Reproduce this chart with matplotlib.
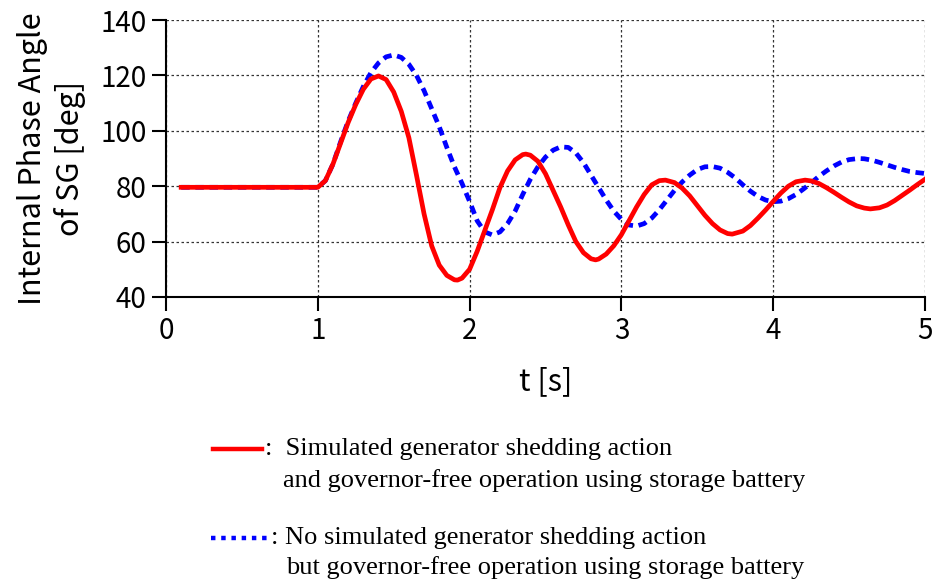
import matplotlib
matplotlib.use("Agg")
import matplotlib.pyplot as plt
from matplotlib.transforms import Bbox

# time axis [s] and internal phase angle [deg]
t_red = [0.1, 1.0, 1.05, 1.1, 1.15, 1.2, 1.25, 1.3, 1.35, 1.4, 1.45, 1.5, 1.55, 1.6,
         1.65, 1.7, 1.75, 1.8, 1.85, 1.9, 1.92, 1.95, 2.0, 2.05, 2.1, 2.15, 2.2,
         2.25, 2.3, 2.35, 2.37, 2.4, 2.45, 2.5, 2.55, 2.6, 2.65, 2.7, 2.75, 2.8,
         2.83, 2.85, 2.9, 2.95, 3.0, 3.05, 3.1, 3.15, 3.2, 3.25, 3.29, 3.35, 3.4,
         3.45, 3.5, 3.55, 3.6, 3.65, 3.7, 3.73, 3.8, 3.85, 3.9, 3.95, 4.0, 4.05,
         4.1, 4.15, 4.21, 4.25, 4.3, 4.35, 4.4, 4.45, 4.5, 4.55, 4.6, 4.64, 4.7,
         4.75, 4.8, 4.85, 4.9, 4.95, 5.0]
ang_red = [79.6, 79.6, 82, 88, 95.5, 103, 109.5, 115, 118.7, 119.8, 118.5, 114, 107, 97.5,
           84, 70, 58.5, 51.5, 47.8, 46.2, 46.1, 46.8, 50, 56.5, 64, 71.5, 79.5,
           85.5, 89.5, 91.4, 91.6, 91.2, 89, 84.5, 78.5, 72.5, 66, 60, 56, 53.8,
           53.4, 53.7, 55.5, 58.5, 62.5, 67.5, 72.5, 77, 80.5, 82, 82.2, 81.3, 79.3,
           76.5, 73, 69.5, 66.5, 64.2, 62.9, 62.7, 63.8, 65.8, 68.5, 71.4, 74.5, 77.5,
           80, 81.6, 82.2, 81.9, 81, 79.5, 77.8, 76, 74.3, 72.9, 72.1, 71.8, 72.2,
           73.2, 74.8, 76.7, 78.6, 80.6, 82.5]

t_blue = [0.1, 1.0, 1.05, 1.1, 1.15, 1.2, 1.25, 1.3, 1.35, 1.4, 1.45, 1.5, 1.55, 1.6,
          1.65, 1.7, 1.75, 1.8, 1.85, 1.9, 1.95, 2.0, 2.05, 2.1, 2.15, 2.2, 2.25,
          2.3, 2.35, 2.4, 2.45, 2.5, 2.55, 2.6, 2.65, 2.7, 2.75, 2.8, 2.85, 2.9,
          2.95, 3.0, 3.05, 3.1, 3.15, 3.2, 3.25, 3.3, 3.35, 3.4, 3.45, 3.5, 3.55,
          3.6, 3.65, 3.7, 3.75, 3.8, 3.85, 3.9, 3.95, 4.0, 4.05, 4.1, 4.15, 4.2,
          4.25, 4.3, 4.35, 4.4, 4.45, 4.5, 4.56, 4.6, 4.65, 4.7, 4.75, 4.8, 4.85,
          4.9, 4.95, 5.0]
ang_blue = [79.6, 79.6, 82, 88, 96, 103.5, 110, 116, 121, 124.5, 126.7, 127.4, 126.5, 124,
            120, 114.5, 108, 101.5, 94, 87, 81, 74.5, 67.5, 63.5, 62.4, 63.5, 66.5,
            71, 77, 82.5, 87, 90.5, 93, 94.2, 94, 92, 88.5, 84, 79.5, 75,
            71, 68, 66, 65.6, 66.5, 68.5, 71.5, 75, 78.5, 81.5, 84, 86, 87,
            87.1, 86.5, 85, 83, 80.5, 78.2, 76.3, 75, 74.4, 74.6, 75.5, 77, 79,
            81.2, 83.5, 85.5, 87.3, 88.7, 89.6, 90, 89.9, 89.4, 88.6, 87.7, 86.8, 86,
            85.3, 84.9, 84.6]

x_ticks = [0, 1, 2, 3, 4, 5]
y_ticks = [40, 60, 80, 100, 120, 140]

gothic = ['Noto Sans CJK JP', 'DejaVu Sans']
serif = ['Liberation Serif', 'DejaVu Serif']

fig = plt.figure(figsize=(9.33, 5.85), dpi=100)
ax = fig.add_axes([166/933, 1-297/585, (925-166)/933, (297-20)/585])

ax.plot(t_blue, ang_blue, color='#0000ff', lw=3.4, dashes=(1.8, 1.2),
        dash_joinstyle='round', zorder=3)
ax.plot(t_red, ang_red, color='#ff0000', lw=3.4, solid_joinstyle='round', zorder=4)

ax.set_xlim(0, 5)
ax.set_ylim(40, 140)
ax.set_xticks(x_ticks)
ax.set_yticks(y_ticks)
ax.grid(True, ls=(0, (2, 2)), color='#333333', lw=0.9)
for s in ['top', 'right']:
    ax.spines[s].set_visible(False)
for s in ['left', 'bottom']:
    ax.spines[s].set_linewidth(1.5)
ax.tick_params(direction='out', length=10, width=1.5, labelsize=20, pad=4)
for lab in ax.get_xticklabels() + ax.get_yticklabels():
    lab.set_family(gothic)

ax.set_xlabel('t [s]', fontsize=22, family=gothic, labelpad=14)
ax.set_ylabel('Internal Phase Angle\nof SG [deg]', fontsize=22, family=gothic,
              linespacing=1.25, labelpad=10)

# legend drawn below the axes
def px(x, y):
    return x/933, 1 - y/585

fig.add_artist(plt.Line2D([213/933, 262/933], [1-449/585]*2, color='#ff0000', lw=3.2))
fig.add_artist(plt.Line2D([211/933, 270/933], [1-538/585]*2, color='#0000ff', lw=3.2,
                          dashes=(1.0, 1.3)))
clip = Bbox.from_extents(0, 0, 805, 585)
lines = [(265, 449, ':  Simulated generator shedding action'),
         (283, 481, 'and governor-free operation using storage battery'),
         (271, 538, ': No simulated generator shedding action'),
         (286, 568, 'but governor-free operation using storage battery')]
for x, y, s in lines:
    tx = fig.text(*px(x, y), s, fontsize=19, family=serif, va='center', ha='left')
    tx.set_clip_box(clip)
    tx.set_clip_on(True)

fig.savefig('out.png', dpi=100)
